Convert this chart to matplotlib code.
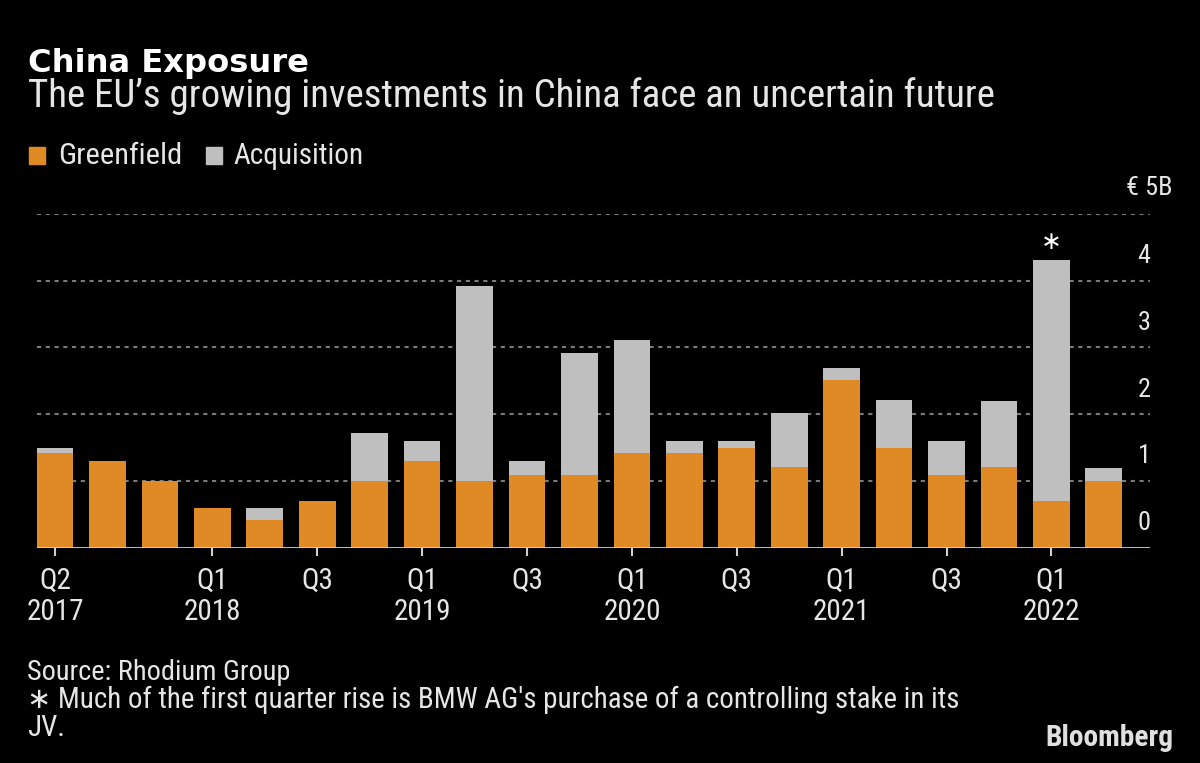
import numpy as np
import matplotlib
matplotlib.use("Agg")
import matplotlib.pyplot as plt
from matplotlib import font_manager as fm
from matplotlib.patches import Rectangle

# ---------------- data ----------------
quarters = ["Q2 2017", "Q3 2017", "Q4 2017", "Q1 2018", "Q2 2018", "Q3 2018", "Q4 2018",
            "Q1 2019", "Q2 2019", "Q3 2019", "Q4 2019", "Q1 2020", "Q2 2020", "Q3 2020",
            "Q4 2020", "Q1 2021", "Q2 2021", "Q3 2021", "Q4 2021", "Q1 2022", "Q2 2022"]
greenfield = [1.42, 1.30, 1.00, 0.59, 0.42, 0.70, 1.00, 1.30, 1.00, 1.09, 1.09,
              1.42, 1.42, 1.50, 1.21, 2.51, 1.50, 1.09, 1.21, 0.70, 1.00]
acquisition = [0.07, 0.00, 0.00, 0.00, 0.17, 0.00, 0.72, 0.30, 2.92, 0.21, 1.82,
               1.69, 0.18, 0.10, 0.81, 0.19, 0.71, 0.51, 0.99, 3.61, 0.20]
tick_quarters = ["Q2 2017", "Q1 2018", "Q3 2018", "Q1 2019", "Q3 2019", "Q1 2020",
                 "Q3 2020", "Q1 2021", "Q3 2021", "Q1 2022"]
tick_labels = ["Q2\n2017", "Q1\n2018", "Q3", "Q1\n2019", "Q3", "Q1\n2020",
               "Q3", "Q1\n2021", "Q3", "Q1\n2022"]
y_ticks = [0, 1, 2, 3, 4]
y_top_label = "€ 5B"
note_quarter = "Q1 2022"

title = "China Exposure"
subtitle = "The EU’s growing investments in China face an uncertain future"
source = "Source: Rhodium Group"
footnote_lines = ["∗ Much of the first quarter rise is BMW AG's purchase of a controlling stake in its",
                  "JV."]

# ---------------- style ----------------
ORANGE = "#E08A25"
GRAY = "#BFBFBF"
BG = "#000000"
TXT = "#E6E6E6"
GRID = "#7A7A7A"

names = {f.name for f in fm.fontManager.ttflist}
def pick(*cands):
    for c in cands:
        if c in names:
            return c
    return "DejaVu Sans"

body = pick("Liberation Sans Narrow", "DejaVu Sans Condensed", "Roboto Condensed",
            "Open Sans Condensed", "Roboto")
fam = [body, "DejaVu Sans"]

W, H = 1200, 763
fig = plt.figure(figsize=(W / 100, H / 100), dpi=100, facecolor=BG)

def fx(px):
    return px / W

def fy(py):
    return 1 - py / H

# axes: x from 36.7 to 1150 px, y from 547.7 (0) to 214 (5)
ax = fig.add_axes([fx(36.7), fy(547.7), fx(1150 - 36.7), (547.7 - 214) / H])
ax.set_facecolor(BG)

x = np.arange(len(quarters))
g = np.array(greenfield)
a = np.array(acquisition)
ax.bar(x, g, width=0.7, color=ORANGE, zorder=3, linewidth=0)
ax.bar(x, a, bottom=g, width=0.7, color=GRAY, zorder=3, linewidth=0)

ax.set_xlim(-0.35, 20.88)
ax.set_ylim(0, 5)

for v in [1, 2, 3, 4, 5]:
    ax.axhline(v, color=GRID, lw=1.5, linestyle=(0, (2, 2.2)), zorder=1)
ax.axhline(0, color="#D0D0D0", lw=2, zorder=4)

for s in ax.spines.values():
    s.set_visible(False)

tpos = [quarters.index(q) for q in tick_quarters]
ax.set_xticks(tpos)
ax.set_xticklabels(tick_labels, fontfamily=fam, fontsize=21, color=TXT, linespacing=1.15)
ax.tick_params(axis="x", length=6, width=1.5, color="#D0D0D0", pad=8)
ax.set_yticks([])

# y labels on the right, above gridlines
for v in y_ticks:
    ax.text(0.9946, v + 0.37, str(v), transform=ax.get_yaxis_transform(),
            ha="center", va="center", fontsize=19, color=TXT, fontfamily=fam)
fig.text(fx(1173), fy(188), y_top_label, ha="right", va="center", fontsize=19,
         color=TXT, fontfamily=fam)

# asterisk above the Q1 2022 bar
ni = quarters.index(note_quarter)
ax.text(ni, g[ni] + a[ni] + 0.27, "∗", ha="center", va="center", fontsize=18,
        color="white", fontfamily=["DejaVu Sans"])

# ---------------- texts ----------------
fig.canvas.draw()
r = fig.canvas.get_renderer()

def fit(t, width_px):
    bb = t.get_window_extent(r)
    t.set_fontsize(t.get_fontsize() * width_px / bb.width)

t1 = fig.text(fx(28), fy(72), title, fontsize=22, fontweight="bold", color="white",
              fontfamily=["DejaVu Sans"], va="baseline")
fit(t1, 279)
t2 = fig.text(fx(28), fy(107), subtitle, fontsize=22, color=TXT, fontfamily=fam,
              va="baseline")
fit(t2, 969)

# legend
fig.add_artist(Rectangle((fx(29), fy(164)), fx(16), 17.5 / H, color=ORANGE,
                         transform=fig.transFigure))
fig.add_artist(Rectangle((fx(206), fy(164)), fx(16), 17.5 / H, color=GRAY,
                         transform=fig.transFigure))
l1 = fig.text(fx(58), fy(164), "Greenfield", fontsize=18, color=TXT, fontfamily=fam,
              va="baseline")
fit(l1, 124)
l2 = fig.text(fx(233), fy(164), "Acquisition", fontsize=18, color=TXT, fontfamily=fam,
              va="baseline")
fit(l2, 130)

s1 = fig.text(fx(27), fy(680), source, fontsize=15, color=TXT, fontfamily=fam,
              va="baseline")
fit(s1, 264)
fs = s1.get_fontsize()
f1 = fig.text(fx(27), fy(708), footnote_lines[0], fontsize=fs, color=TXT, fontfamily=fam,
              va="baseline")
fit(f1, 936)
fig.text(fx(27), fy(736), footnote_lines[1], fontsize=f1.get_fontsize(), color=TXT,
         fontfamily=fam, va="baseline")

b = fig.text(fx(1045), fy(746.5), "Bloomberg", fontsize=18, fontweight="bold",
             color="#E0E0E0", fontfamily=fam, va="baseline")
fit(b, 128)

fig.savefig("out.png", dpi=100, facecolor=BG)
